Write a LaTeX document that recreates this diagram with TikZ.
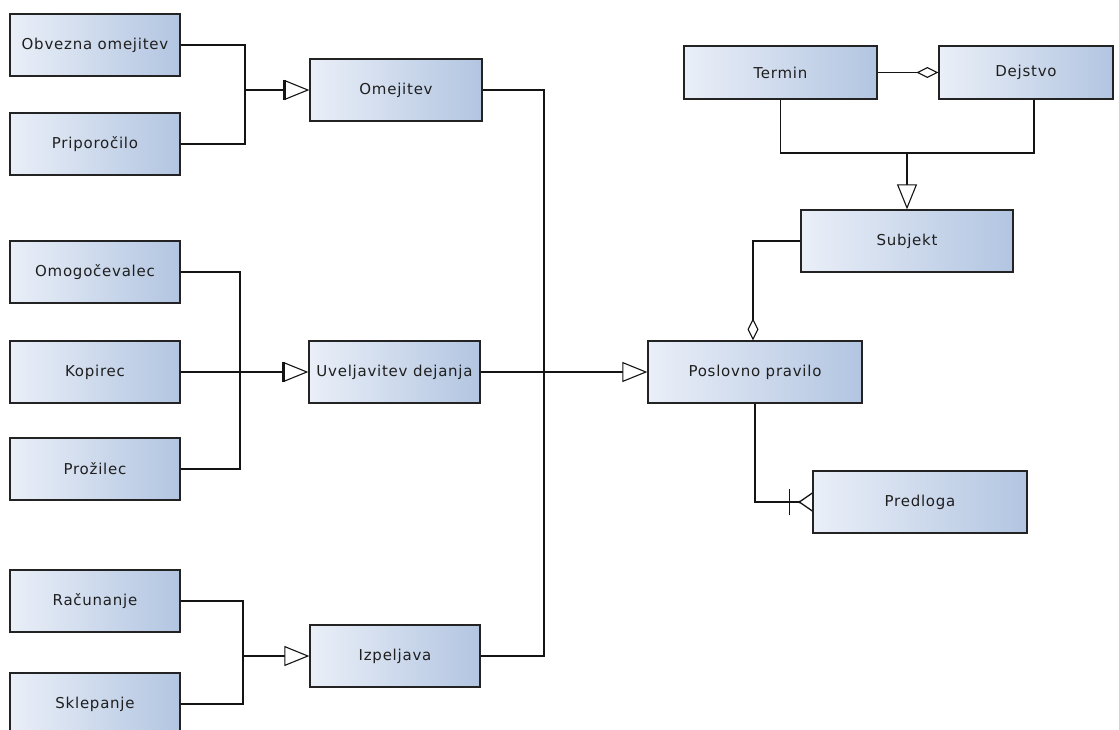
\documentclass[tikz,border=0pt]{standalone}
\usepackage{fontspec}
\newfontfamily\boxfont[LetterSpace=5]{DejaVu Sans}
\usetikzlibrary{arrows.meta}
\definecolor{boxleft}{RGB}{234,239,248}
\definecolor{boxright}{RGB}{178,197,225}
\definecolor{edge}{RGB}{35,35,35}
\definecolor{wire}{RGB}{20,20,20}
\tikzset{
  entity/.style={rectangle, draw=edge, line width=1.3pt, left color=boxleft, right color=boxright,
    minimum height=62pt, inner sep=0pt, font=\boxfont\fontsize{15}{17}\selectfont, text=black!88},
  wirestyle/.style={draw=wire, line width=1.3pt},
  gen/.style={wirestyle, -{Triangle[length=25pt, width=20pt, fill=white, line width=1.1pt]}},
  agg/.style={wirestyle, -{Diamond[length=22pt, width=11pt, fill=white, line width=1.1pt]}},
  trunk/.style={draw=wire, line width=2.6pt},
  basebar/.style={draw=wire, line width=2.4pt},
}
\begin{document}
\begin{tikzpicture}[x=1pt, y=-1pt]
\useasboundingbox (0,0) rectangle (1119,729);
\clip (0,0) rectangle (1119,729);
\fill[white] (0,0) rectangle (1119,729);

% left column of specialised rules
\node[entity, minimum width=170pt] (obv) at (95,45)  {Obvezna omejitev};
\node[entity, minimum width=170pt] (pri) at (95,144) {Priporočilo};
\node[entity, minimum width=170pt] (omo) at (95,272) {Omogočevalec};
\node[entity, minimum width=170pt] (kop) at (95,372) {Kopirec};
\node[entity, minimum width=170pt] (pro) at (95,469) {Prožilec};
\node[entity, minimum width=170pt] (rac) at (95,601) {Računanje};
\node[entity, minimum width=170pt] (skl) at (95,704) {Sklepanje};

% middle column
\node[entity, minimum width=172pt] (ome) at (396,90)  {Omejitev};
\node[entity, minimum width=171pt] (uve) at (394.5,372) {Uveljavitev dejanja};
\node[entity, minimum width=170pt] (izp) at (395,656) {Izpeljava};

% right part
\node[entity, minimum width=214pt] (pp)   at (755,372)   {Poslovno pravilo};
\node[entity, minimum width=193pt, minimum height=53pt] (ter) at (780.5,72.5) {Termin};
\node[entity, minimum width=174pt, minimum height=53pt] (dej) at (1026,72.5)  {Dejstvo};
\node[entity, minimum width=212pt] (sub)  at (907,241)   {Subjekt};
\node[entity, minimum width=214pt] (pred) at (920,502)   {Predloga};

% junction points
\coordinate (j1) at (245,90);
\coordinate (j2) at (240,372);
\coordinate (j3) at (243,656);
\coordinate (j4) at (544,372);
\coordinate (j5) at (907,153);

% Omejitev
\draw[wirestyle] (obv.east) -| (j1);
\draw[wirestyle] (pri.east) -| (j1);
\draw[gen] (j1) -- (ome.west);
\draw[basebar] ([xshift=-25pt,yshift=-10pt]ome.west) -- ([xshift=-25pt,yshift=10pt]ome.west);

% Uveljavitev dejanja
\draw[wirestyle] (omo.east) -| (j2);
\draw[wirestyle] (pro.east) -| (j2);
\draw[wirestyle] (kop.east) -- (j2);
\draw[gen] (j2) -- (uve.west);
\draw[trunk] (j2) -- ([xshift=-36pt]uve.west);
\draw[basebar] ([xshift=-25pt,yshift=-10pt]uve.west) -- ([xshift=-25pt,yshift=10pt]uve.west);

% Izpeljava
\draw[wirestyle] (rac.east) -| (j3);
\draw[wirestyle] (skl.east) -| (j3);
\draw[gen] (j3) -- (izp.west);

% Poslovno pravilo
\draw[wirestyle] (ome.east) -| (j4);
\draw[wirestyle] (izp.east) -| (j4);
\draw[wirestyle] (uve.east) -- (j4);
\draw[gen] (j4) -- (pp.west);
\draw[trunk] (j4) -- ([xshift=-26pt]pp.west);

% Subjekt
\draw[wirestyle] (ter.south) |- (j5);
\draw[wirestyle] (j5) -| ([xshift=8pt]dej.south);
\draw[gen] (j5) -- (sub.north);
\draw[agg] (ter.east) -- (dej.west);
\draw[agg] (sub.west) -| ([xshift=-2pt]pp.north);

% Predloga (one or many)
\draw[wirestyle] (pp.south) |- ([xshift=-13pt]pred.west) coordinate (cf);
\draw[wirestyle] (cf) -- ([yshift=-9pt]pred.west);
\draw[wirestyle] (cf) -- ([yshift=9pt]pred.west);
\draw[wirestyle] ([xshift=-23pt,yshift=-13pt]pred.west) -- ([xshift=-23pt,yshift=13pt]pred.west);
\fill[wire] (cf) circle (1.4pt);
\end{tikzpicture}
\end{document}
